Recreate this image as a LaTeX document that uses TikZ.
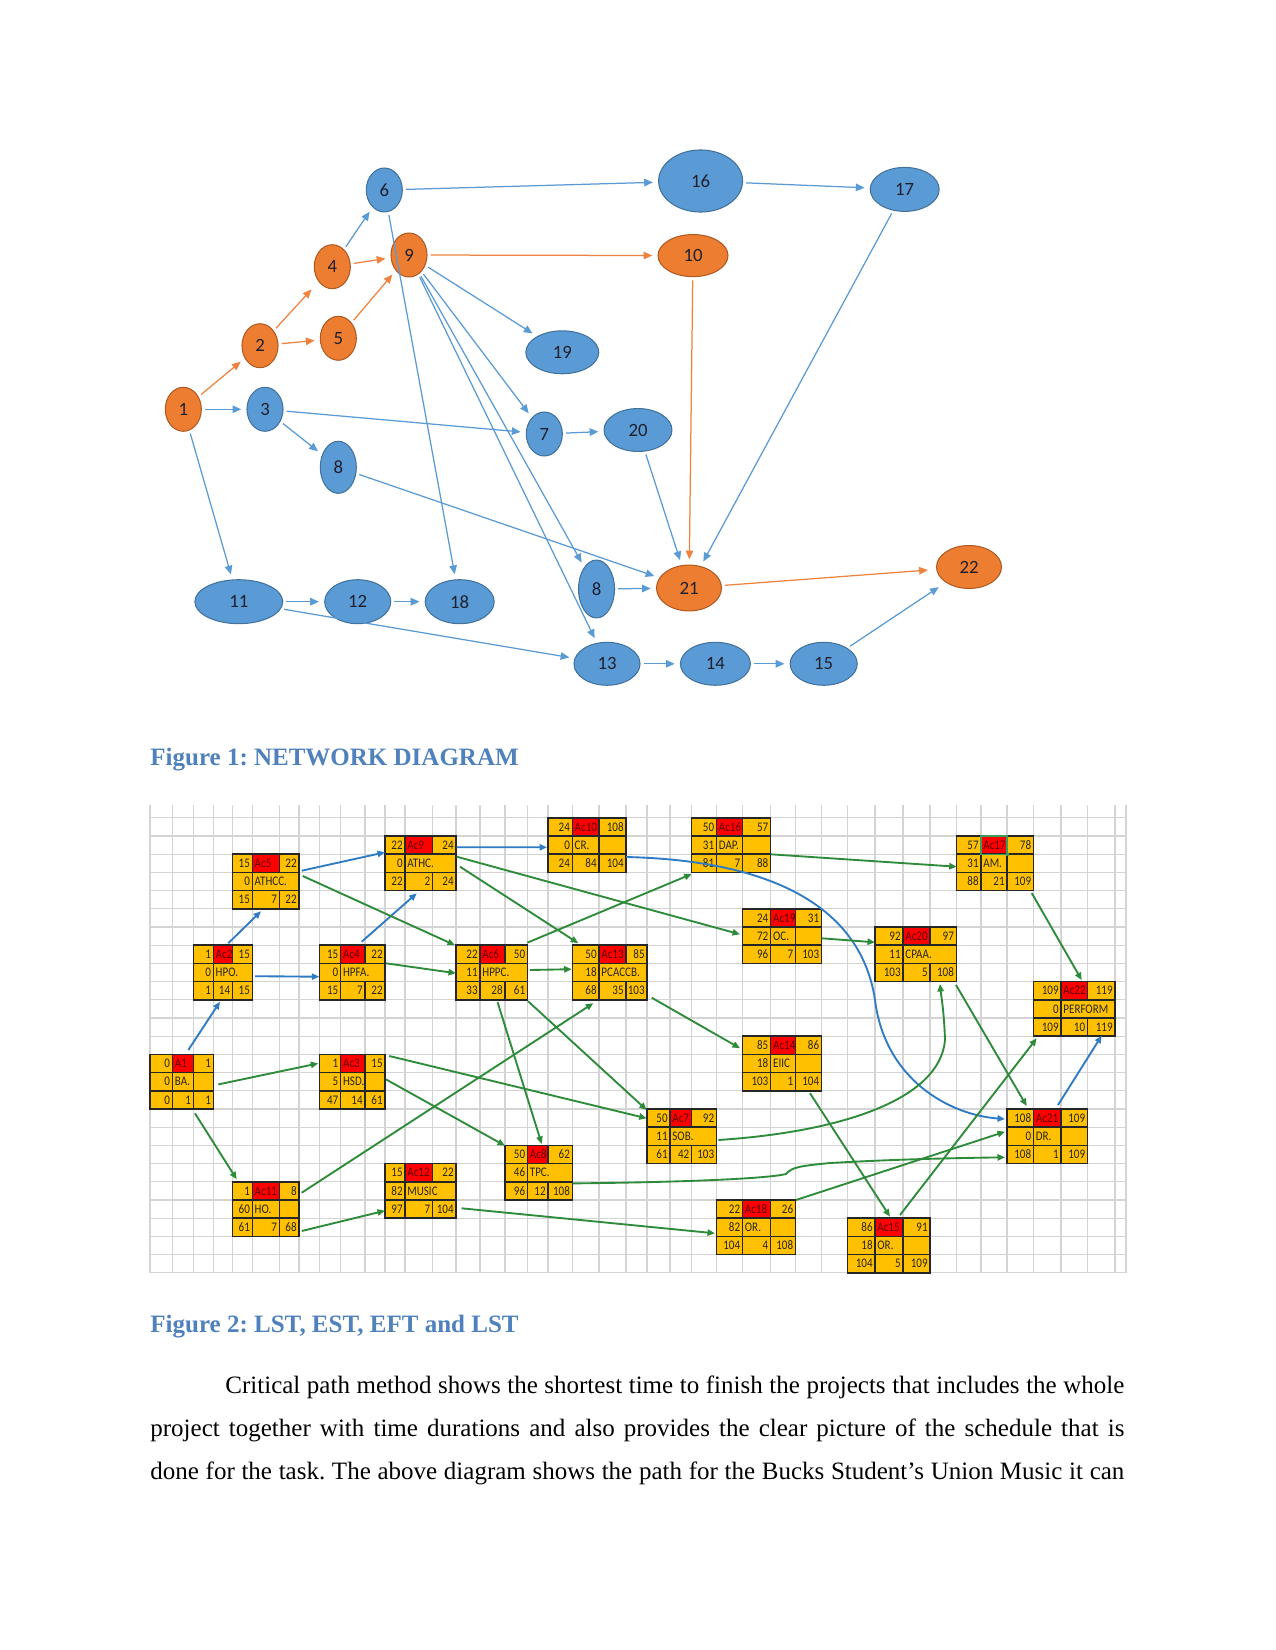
\documentclass[tikz,border=0pt]{standalone}
\usepackage{fontspec}
\setmainfont{Liberation Serif}
\newfontfamily\calibri{Carlito}
\newfontfamily\calibrin[FakeStretch=0.84]{Carlito}
\usetikzlibrary{shapes.geometric,arrows.meta,calc}
\definecolor{nblue}{HTML}{5B9BD5}
\definecolor{nbluedk}{HTML}{41719C}
\definecolor{norange}{HTML}{ED7D31}
\definecolor{norangedk}{HTML}{AE5A21}
\definecolor{eblue}{HTML}{5B9BD5}
\definecolor{eorange}{HTML}{EE8340}
\definecolor{capblue}{HTML}{4F81BD}
\definecolor{boxc}{HTML}{FFC000}
\definecolor{redc}{HTML}{FF0000}
\definecolor{redtxt}{HTML}{5A0000}
\definecolor{gline}{HTML}{2E8B3A}
\definecolor{bline}{HTML}{2F7BC4}
\definecolor{gridc}{HTML}{D4D4D4}
\definecolor{ntext}{HTML}{1F1F2E}
\definecolor{selc}{HTML}{3C9A5F}
\def\colX{{150,172.5,193.3,213.3,232.5,252.3,279.5,299,319.3,340.7,365,385,405,432.5,456,480,505,527.5,548,572.3,599,626,647,670,691.7,716.5,742.5,770.7,795.5,821.5,847.3,875,903,930,956.3,981,1007,1033.5,1061,1087.5,1115,1126}}
\newcommand\bxTop[3]{%
  \node[cnum] at (\xB-2,\yA+13.3) {#1};
  \node[cname] at (\xB+2,\yA+13.3) {#2};
  \node[cnum] at (\xD-2,\yA+13.3) {#3};}
\newcommand\bxMid[2]{%
  \node[cnum] at (\xB-2,\yB+13.3) {#1};
  \node[ctxt] at (\xB+2,\yB+13.3) {#2};}
\newcommand\bxBot[3]{%
  \node[cnum] at (\xB-2,\yC+13.3) {#1};
  \node[cnum] at (\xC-2,\yC+13.3) {#2};
  \node[cnum] at (\xD-2,\yC+13.3) {#3};}
% #1 name #2 column #3 row #4 merged(1)/split(0) #5 top #6 middle #7 bottom
\newcommand\actbox[7]{%
  \pgfmathsetmacro\xA{\colX[#2]}%
  \pgfmathsetmacro\xB{\colX[#2+1]}%
  \pgfmathsetmacro\xC{\colX[#2+2]}%
  \pgfmathsetmacro\xD{\colX[#2+3]}%
  \pgfmathsetmacro\yA{817.8+18.2*#3}%
  \pgfmathsetmacro\yB{\yA+18.2}%
  \pgfmathsetmacro\yC{\yA+36.4}%
  \pgfmathsetmacro\yD{\yA+54.6}%
  \pgfmathsetmacro\bw{(\xD-\xA)*0.48}%
  \fill[boxc] (\xA,\yA) rectangle (\xD,\yD);
  \fill[redc] (\xB,\yA) rectangle (\xC,\yB);
  \draw[boxline] (\xA,\yA) rectangle (\xD,\yD)
     (\xA,\yB) -- (\xD,\yB) (\xA,\yC) -- (\xD,\yC)
     (\xB,\yA) -- (\xB,\yD) (\xC,\yA) -- (\xC,\yB) (\xC,\yC) -- (\xC,\yD);
  \ifnum#4=0 \draw[boxline] (\xC,\yB) -- (\xC,\yC);\fi
  \node[inner sep=0pt,outer sep=0pt,minimum width=\bw pt,minimum height=26.208pt,anchor=north west] (#1) at (\xA,\yA) {};
  \bxTop#5
  \bxMid#6
  \bxBot#7
}
\frenchspacing
\begin{document}
\begin{tikzpicture}[x=0.48pt,y=-0.48pt,
  bnode/.style={ellipse, draw=nbluedk, line width=0.5pt, fill=nblue, inner sep=0pt,
     font=\calibri\fontsize{9}{10}\selectfont, text=ntext},
  onode/.style={bnode, draw=norangedk, fill=norange},
  barr/.style={draw=eblue, line width=0.6pt, -{Triangle[length=4.2pt,width=3.6pt]},
     shorten >=2.5pt, shorten <=1.5pt},
  oarr/.style={barr, draw=eorange},
  garr/.style={draw=gline, line width=0.9pt, -{Triangle[length=3.6pt,width=3pt]}},
  blarr/.style={garr, draw=bline},
  gridline/.style={draw=gridc, line width=0.5pt},
  boxline/.style={draw=black!85, line width=0.75pt},
  cnum/.style={anchor=base east, inner sep=0pt, font=\calibrin\fontsize{6.3}{7}\selectfont, text=black!85},
  ctxt/.style={cnum, anchor=base west},
  cname/.style={ctxt, text=redtxt},
  captext/.style={anchor=base west, inner sep=0pt, font=\bfseries\fontsize{12}{14}\selectfont, text=capblue},
  bodytext/.style={anchor=base west, inner sep=0pt, font=\fontsize{12}{14}\selectfont}]
\useasboundingbox (0,0) rectangle (1275,1650);
\fill[white] (0,0) rectangle (1275,1650);

% ---------------- Figure 1 ----------------
\node[onode, minimum width=17.3pt, minimum height=21.1pt] (n1) at (183.3,409.3) {1};
\node[onode, minimum width=17.3pt, minimum height=21.1pt] (n2) at (260,345.7) {2};
\node[bnode, minimum width=17.3pt, minimum height=21.1pt] (n3) at (265,409.3) {3};
\node[onode, minimum width=17.3pt, minimum height=21.1pt] (n4) at (332.3,266.7) {4};
\node[onode, minimum width=17.3pt, minimum height=21.1pt] (n5) at (338.3,338.3) {5};
\node[bnode, minimum width=17.3pt, minimum height=21.1pt] (n6) at (384.3,190) {6};
\node[onode, minimum width=17.3pt, minimum height=21.1pt] (n9) at (409,255) {9};
\node[bnode, minimum width=17.3pt, minimum height=25pt] (n8a) at (338.3,467.3) {8};
\node[bnode, minimum width=40.3pt, minimum height=29.8pt] (n16) at (700.6,181) {16};
\node[onode, minimum width=33.6pt, minimum height=20.2pt] (n10) at (693,255.6) {10};
\node[bnode, minimum width=33.1pt, minimum height=21.1pt] (n17) at (904.7,189.4) {17};
\node[bnode, minimum width=35pt, minimum height=20.6pt] (n19) at (562.3,352.3) {19};
\node[bnode, minimum width=17.3pt, minimum height=21.1pt] (n7) at (544.3,434) {7};
\node[bnode, minimum width=32.6pt, minimum height=20.6pt] (n20) at (638,430) {20};
\node[bnode, minimum width=42.2pt, minimum height=21.1pt] (n11) at (238.8,601.7) {11};
\node[bnode, minimum width=31.7pt, minimum height=21.1pt] (n12) at (357.7,601.7) {12};
\node[bnode, minimum width=33.1pt, minimum height=21.1pt] (n18) at (459.7,601.7) {18};
\node[bnode, minimum width=17.3pt, minimum height=27.8pt] (n8b) at (596.5,589) {8};
\node[onode, minimum width=31.2pt, minimum height=22pt] (n21) at (689,588) {21};
\node[onode, minimum width=31.2pt, minimum height=20.6pt] (n22) at (969,567) {22};
\node[bnode, minimum width=31.7pt, minimum height=20.6pt] (n13) at (607,663.8) {13};
\node[bnode, minimum width=33.6pt, minimum height=20.6pt] (n14) at (715.4,663.8) {14};
\node[bnode, minimum width=32.2pt, minimum height=20.6pt] (n15) at (823.7,663.8) {15};

\draw[oarr] (n1) -- (n2);
\draw[oarr, shorten >=5pt] (n2) -- (n4);
\draw[oarr] (n2) -- (n5);
\draw[oarr] (n4) -- (n9);
\draw[oarr] (n5) -- (n9);
\draw[oarr] (n9) -- (n10);
\draw[oarr] (n10) -- (n21);
\draw[oarr, shorten >=4pt] (n21) -- (n22);
\draw[barr] (n1) -- (n3);
\draw[barr] (n1) -- (n11);
\draw[barr] (n4) -- (n6);
\draw[barr] (n3) -- (n7);
\draw[barr] (n3) -- (n8a);
\draw[barr] (n6) -- (n16);
\draw[barr] (n6) -- (n18);
\draw[barr] (n9) -- (n19);
\draw[barr] (n9) -- (n7);
\draw[barr] (n9) -- (n8b);
\draw[barr] (n9) -- (n13);
\draw[barr] (n16) -- (n17);
\draw[barr] (n17) -- (n21);
\draw[barr] (n7) -- (n20);
\draw[barr] (n20) -- (n21);
\draw[barr] (n8a) -- (n21);
\draw[barr] (n8b) -- (n21);
\draw[barr] (n11) -- (n12);
\draw[barr] (n12) -- (n18);
\draw[barr] (n11) -- (n13);
\draw[barr] (n13) -- (n14);
\draw[barr] (n14) -- (n15);
\draw[barr, shorten >=4pt] (n15) -- (n22);

\node[captext] (cap1) at (150,765) {Figure 1: NETWORK DIAGRAM};

% ---------------- Figure 2 ----------------
\foreach \c in {150,172.5,193.3,213.3,232.5,252.3,279.5,299,319.3,340.7,365,385,405,432.5,456,480,505,527.5,548,572.3,599,626,647,670,691.7,716.5,742.5,770.7,795.5,821.5,847.3,875,903,930,956.3,981,1007,1033.5,1061,1087.5,1115,1126}
  {\draw[gridline] (\c,805) -- (\c,1273);}
\foreach \k in {0,...,25}
  {\draw[gridline] (150,817.8+18.2*\k) -- (1126,817.8+18.2*\k);}

\actbox{b1}{0}{13}{0}{{0}{A1}{1}}{{0}{BA.}}{{0}{1}{1}}
\actbox{b2}{2}{7}{1}{{1}{Ac2}{15}}{{0}{HPO.}}{{1}{14}{15}}
\actbox{b3}{8}{13}{0}{{1}{Ac3}{15}}{{5}{HSD.}}{{47}{14}{61}}
\actbox{b4}{8}{7}{1}{{15}{Ac4}{22}}{{0}{HPFA.}}{{15}{7}{22}}
\actbox{b5}{4}{2}{1}{{15}{Ac5}{22}}{{0}{ATHCC.}}{{15}{7}{22}}
\actbox{b6}{14}{7}{1}{{22}{Ac6}{50}}{{11}{HPPC.}}{{33}{28}{61}}
\actbox{b7}{22}{16}{1}{{50}{Ac7}{92}}{{11}{SOB.}}{{61}{42}{103}}
\actbox{b8}{16}{18}{1}{{50}{Ac8}{62}}{{46}{TPC.}}{{96}{12}{108}}
\actbox{b9}{11}{1}{1}{{22}{Ac9}{24}}{{0}{ATHC.}}{{22}{2}{24}}
\actbox{b10}{18}{0}{0}{{24}{Ac10}{108}}{{0}{CR.}}{{24}{84}{104}}
\actbox{b11}{4}{20}{0}{{1}{Ac11}{8}}{{60}{HO.}}{{61}{7}{68}}
\actbox{b12}{11}{19}{1}{{15}{Ac12}{22}}{{82}{MUSIC}}{{97}{7}{104}}
\actbox{b13}{19}{7}{1}{{50}{Ac13}{85}}{{18}{PCACCB.}}{{68}{35}{103}}
\actbox{b14}{26}{12}{0}{{85}{Ac14}{86}}{{18}{EIIC}}{{103}{1}{104}}
\actbox{b15}{30}{22}{0}{{86}{Ac15}{91}}{{18}{OR.}}{{104}{5}{109}}
\actbox{b16}{24}{0}{0}{{50}{Ac16}{57}}{{31}{DAP.}}{{81}{7}{88}}
\actbox{b17}{34}{1}{0}{{57}{Ac17}{78}}{{31}{AM.}}{{88}{21}{109}}
\actbox{b18}{25}{21}{0}{{22}{Ac18}{26}}{{82}{OR.}}{{104}{4}{108}}
\actbox{b19}{26}{5}{0}{{24}{Ac19}{31}}{{72}{OC.}}{{96}{7}{103}}
\actbox{b20}{31}{6}{1}{{92}{Ac20}{97}}{{11}{CPAA.}}{{103}{5}{108}}
\actbox{b21}{36}{16}{0}{{108}{Ac21}{109}}{{0}{DR.}}{{108}{1}{109}}
\actbox{b22}{37}{9}{1}{{109}{Ac22}{119}}{{0}{PERFORM}}{{109}{10}{119}}
% selected cell outline in Ac17
\draw[selc, line width=0.6pt] ($(b17.north west)+(24.7,0)$) rectangle ($(b17.north west)+(50.7,18.2)$);
\fill[selc] ($(b17.north west)+(49.2,16.7)$) rectangle ($(b17.north west)+(52.2,19.7)$);

% blue connectors
\draw[blarr] ($(b1.north west)+(38.3,-4.4)$) -- ($(b2.north west)+(26.7,56.5)$);
\draw[blarr] ($(b2.north west)+(35,-2)$) -- ($(b5.north west)+(28.5,57)$);
\draw[blarr] ($(b2.north west)+(61.7,31)$) -- ($(b4.north west)+(0,31.5)$);
\draw[blarr] ($(b4.north west)+(42.4,-3.5)$) -- ($(b9.north west)+(31.7,57.3)$);
\draw[blarr] ($(b5.north west)+(69.2,16.5)$) -- ($(b9.north west)+(0,16.3)$);
\draw[blarr] ($(b9.north west)+(71.7,11.3)$) -- ($(b10.north west)+(-1,29.5)$);
\draw[blarr] ($(b10.north west)+(78,39.2)$) .. controls (760,860) and (860,900) .. (875,1000)
   .. controls (885,1080) and (950,1115) .. ($(b21.north west)+(-2,10)$);
\draw[blarr] ($(b21.north west)+(51,-4)$) -- ($(b22.north west)+(68.2,54)$);

% green connectors
\draw[garr] ($(b1.north west)+(68.3,30)$) -- ($(b3.north west)+(-1,9)$);
\draw[garr] ($(b1.north west)+(45,59)$) -- ($(b11.north west)+(4.2,-2.5)$);
\draw[garr] ($(b5.north west)+(70.2,21.8)$) -- ($(b6.north west)+(-1,0)$);
\draw[garr] ($(b4.north west)+(66.7,18.1)$) -- ($(b6.north west)+(0,28)$);
\draw[garr] ($(b9.north west)+(71.7,20.7)$) -- ($(b19.north west)+(-2.5,25.5)$);
\draw[garr] ($(b9.north west)+(75,30.7)$) -- ($(b13.north west)+(6,-2)$);
\draw[garr] ($(b6.north west)+(71.3,-2.5)$) -- ($(b16.north west)+(0,56.2)$);
\draw[garr] ($(b6.north west)+(74,24.8)$) -- ($(b13.north west)+(-0.6,24)$);
\draw[garr] ($(b6.north west)+(41.6,57)$) -- ($(b8.north west)+(36.7,-1.4)$);
\draw[garr] ($(b6.north west)+(72,56)$) -- ($(b7.north west)+(-0.3,1)$);
\draw[garr] ($(b13.north west)+(79.4,52.5)$) -- ($(b14.north west)+(-2.5,12)$);
\draw[garr] ($(b16.north west)+(79,36.5)$) -- ($(b17.north west)+(0.4,30.7)$);
\draw[garr] ($(b19.north west)+(79.2,29.5)$) -- ($(b20.north west)+(0,15.3)$);
\draw[garr] ($(b17.north west)+(75.4,57)$) -- ($(b22.north west)+(48.2,-1.5)$);
\draw[garr] ($(b3.north west)+(70,1.6)$) -- ($(b7.north west)+(-0.3,9.3)$);
\draw[garr] ($(b3.north west)+(66.7,25)$) -- ($(b8.north west)+(0,0.3)$);
\draw[garr] ($(b11.north west)+(69.2,10.9)$) -- ($(b13.north west)+(21,58)$);
\draw[garr] ($(b11.north west)+(69.2,49.2)$) -- ($(b12.north west)+(0,47.1)$);
\draw[garr] ($(b12.north west)+(76.7,44.7)$) -- ($(b18.north west)+(-1.5,33.3)$);
\draw[garr] ($(b8.north west)+(67.7,38)$) .. controls (700,1182) and (770,1178) .. (786,1174)
   .. controls (792,1167) and (800,1166) .. (830,1163)
   .. controls (900,1159) and (960,1158) .. ($(b21.north west)+(-2,48.3)$);
\draw[garr] ($(b7.north west)+(71.3,31)$) .. controls (840,1132) and (940,1100) .. (945,1040)
   .. controls (944,1010) and (941,995) .. ($(b20.north west)+(65,57)$);
\draw[garr] ($(b20.north west)+(81,58)$) -- ($(b21.north west)+(19.7,-3)$);
\draw[garr] ($(b14.north west)+(67.5,57)$) -- ($(b15.north west)+(42.7,-1.5)$);
\draw[garr] ($(b15.north west)+(52.7,-3.2)$) -- ($(b22.north west)+(3.2,56.7)$);
\draw[garr] ($(b18.north west)+(79.5,0)$) -- ($(b21.north west)+(-2,22.7)$);

\node[captext] (cap2) at (150,1332) {Figure 2: LST, EST, EFT and LST};

% ---------------- Body text ----------------
\node[bodytext] (l1) at (150,1393) {\makebox[467.5pt][s]{\hspace*{36pt}Critical path method shows the shortest time to finish the projects that includes the whole}};
\node[bodytext] (l2) at (150,1436) {\makebox[467.5pt][s]{project together with time durations and also provides the clear picture of the schedule that is}};
\node[bodytext] (l3) at (150,1479) {\makebox[467.5pt][s]{done for the task. The above diagram shows the path for the Bucks Student’s Union Music it can}};
\end{tikzpicture}
\end{document}
